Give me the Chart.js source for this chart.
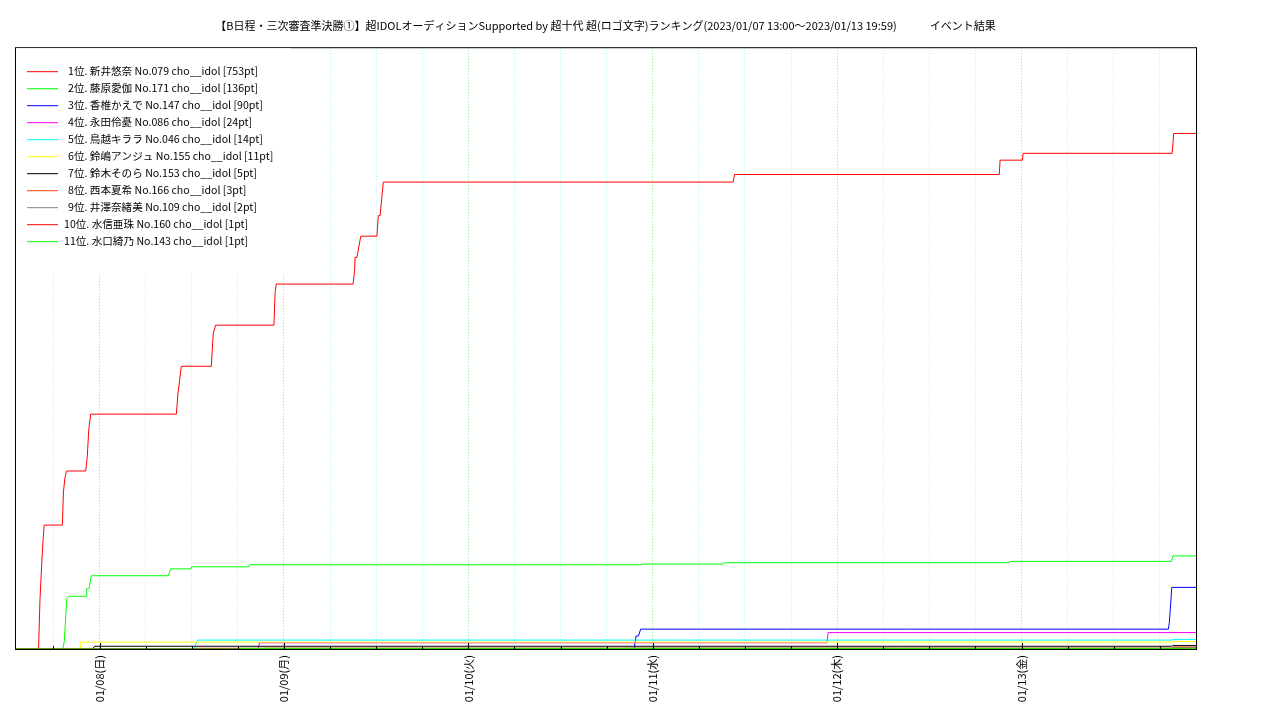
<!DOCTYPE html>
<html lang="ja">
<head>
<meta charset="UTF-8">
<title>ランキング推移</title>
<script src="https://cdn.jsdelivr.net/npm/chart.js@4"></script>
<style>
  body { margin: 0; background: #fff; }
  #wrap { width: 1280px; height: 720px; }
</style>
</head>
<body>
<div id="wrap"><canvas id="rankChart" width="1280" height="720"></canvas></div>
<script>
const chartTitle = '【B日程・三次審査準決勝①】超IDOLオーディションSupported by 超十代 超(ロゴ文字)ランキング(2023/01/07 13:00〜2023/01/13 19:59)　　　イベント結果';
const startTime = '01/07 13:00';
const endTime = '01/13 22:42';
const dayLabels = ['01/08(日)', '01/09(月)', '01/10(火)', '01/11(水)', '01/12(木)', '01/13(金)'];

const names = [
  '1位. 新井悠奈 No.079 cho__idol [753pt]',
  '2位. 藤原愛伽 No.171 cho__idol [136pt]',
  '3位. 香椎かえで No.147 cho__idol [90pt]',
  '4位. 永田伶憂 No.086 cho__idol [24pt]',
  '5位. 鳥越キララ No.046 cho__idol [14pt]',
  '6位. 鈴嶋アンジュ No.155 cho__idol [11pt]',
  '7位. 鈴木そのら No.153 cho__idol [5pt]',
  '8位. 西本夏希 No.166 cho__idol [3pt]',
  '9位. 井澤奈緒美 No.109 cho__idol [2pt]',
  '10位. 水信亜珠 No.160 cho__idol [1pt]',
  '11位. 水口綺乃 No.143 cho__idol [1pt]'
];
const colors = ['#ff0000', '#00ff00', '#0000ff', '#ff00ff', '#00ffff', '#ffff00',
                '#000000', '#ff4500', '#808080', '#ff0000', '#00ff00'];

// [time, points]
const rank1 = [
  ['01/07 13:00', 0], ['01/07 16:04', 0], ['01/07 16:15', 72], ['01/07 16:30', 130],
  ['01/07 16:40', 162], ['01/07 16:48', 181], ['01/07 19:10', 181], ['01/07 19:18', 229],
  ['01/07 19:30', 250], ['01/07 19:42', 260], ['01/07 22:12', 260], ['01/07 22:24', 280],
  ['01/07 22:36', 320], ['01/07 22:51', 343], ['01/08 10:00', 343], ['01/08 10:12', 372],
  ['01/08 10:39', 413], ['01/08 14:33', 413], ['01/08 14:48', 461], ['01/08 15:06', 473],
  ['01/08 22:42', 473], ['01/08 22:51', 521], ['01/08 23:00', 533], ['01/09 09:00', 533],
  ['01/09 09:12', 553], ['01/09 09:15', 572], ['01/09 09:30', 572], ['01/09 10:00', 603],
  ['01/09 12:06', 603], ['01/09 12:17', 633], ['01/09 12:31', 633], ['01/09 12:56', 682],
  ['01/11 10:27', 682], ['01/11 10:39', 693], ['01/12 21:06', 693], ['01/12 21:12', 714],
  ['01/13 00:06', 714], ['01/13 00:12', 724], ['01/13 19:36', 724], ['01/13 19:48', 753],
  ['01/13 22:42', 753]
];
const rank2 = [
  ['01/07 13:00', 0], ['01/07 19:13', 0], ['01/07 19:25', 11], ['01/07 19:44', 74],
  ['01/07 19:59', 77], ['01/07 22:17', 77], ['01/07 22:20', 88], ['01/07 22:38', 88],
  ['01/07 22:56', 107], ['01/08 08:57', 107], ['01/08 09:16', 117], ['01/08 11:54', 117],
  ['01/08 11:58', 120], ['01/08 19:25', 120], ['01/08 19:33', 123], ['01/10 22:36', 123],
  ['01/10 22:44', 124], ['01/11 09:09', 124], ['01/11 09:17', 126], ['01/12 22:24', 126],
  ['01/12 22:36', 128], ['01/13 19:30', 128], ['01/13 19:42', 136], ['01/13 22:42', 136]
];
const rank3 = [
  ['01/07 13:00', 0], ['01/10 21:34', 0], ['01/10 21:50', 19], ['01/10 22:08', 19],
  ['01/10 22:26', 29], ['01/13 19:06', 29], ['01/13 19:14', 39], ['01/13 19:33', 90],
  ['01/13 22:42', 90]
];
const rank4 = [
  ['01/07 13:00', 0], ['01/08 20:40', 0], ['01/08 20:48', 9], ['01/11 22:41', 9],
  ['01/11 22:49', 24], ['01/13 22:42', 24]
];
const rank5 = [
  ['01/07 13:00', 0], ['01/08 12:18', 0], ['01/08 12:44', 13], ['01/13 19:30', 13],
  ['01/13 19:40', 14], ['01/13 22:42', 14]
];
const rank6 = [
  ['01/07 13:00', 0], ['01/07 21:28', 0], ['01/07 21:30', 10], ['01/13 19:30', 10],
  ['01/13 19:40', 11], ['01/13 22:42', 11]
];
const rank7 = [
  ['01/07 13:00', 0], ['01/07 23:01', 0], ['01/07 23:24', 4], ['01/13 19:30', 4],
  ['01/13 19:40', 5], ['01/13 22:42', 5]
];
const rank8 = [
  ['01/07 13:00', 0], ['01/08 21:30', 0], ['01/08 21:32', 1], ['01/13 19:30', 1],
  ['01/13 19:40', 3], ['01/13 22:42', 3]
];
const rank9 = [
  ['01/07 13:00', 0], ['01/10 19:58', 0], ['01/10 20:00', 1], ['01/13 19:30', 1],
  ['01/13 19:40', 2], ['01/13 22:42', 2]
];
const rank10 = [
  ['01/07 13:00', 0], ['01/08 12:24', 0], ['01/08 12:26', 1], ['01/13 22:42', 1]
];
const rank11 = [
  ['01/07 13:00', 0], ['01/08 17:58', 0], ['01/08 18:00', 1], ['01/13 22:42', 1]
];
const series = [rank1, rank2, rank3, rank4, rank5, rank6, rank7, rank8, rank9, rank10, rank11];

const FONT = '"Noto Sans CJK JP", "Noto Sans", sans-serif';

// hours since 01/07 00:00
function toHours(s) {
  const [md, hm] = s.split(' ');
  const [m, d] = md.split('/').map(Number);
  const [h, mi] = hm.split(':').map(Number);
  return (d - 7) * 24 + h + mi / 60;
}

const xMin = toHours(startTime);
const xMax = toHours(endTime);

const datasets = series.map((s, i) => ({
  label: names[i],
  data: s.map(p => ({ x: toHours(p[0]), y: p[1] })),
  borderColor: colors[i],
  borderWidth: 1,
  pointRadius: 0,
  fill: false,
  order: -i
}));

// frame, inner tick marks and legend inside the plot
const framePlugin = {
  id: 'frame',
  afterDatasetsDraw(chart) {
    const { ctx, chartArea: a } = chart;
    const xs = chart.scales.x;
    ctx.save();
    ctx.strokeStyle = '#000';
    ctx.lineWidth = 1;
    ctx.strokeRect(a.left + 0.5, a.top + 0.5, a.right - a.left, a.bottom - a.top);
    xs.ticks.forEach(t => {
      const px = Math.round(xs.getPixelForValue(t.value)) + 0.5;
      const len = t.value % 24 === 0 ? 6 : 3;
      ctx.beginPath();
      ctx.moveTo(px, a.bottom);
      ctx.lineTo(px, a.bottom - len);
      ctx.stroke();
    });
    ctx.restore();
  },
  afterDraw(chart) {
    const { ctx, chartArea: a } = chart;
    ctx.save();
    // legend box (white, no border)
    ctx.fillStyle = '#fff';
    ctx.fillRect(a.left + 1, a.top + 1, 275, 225);
    ctx.font = '10.6px ' + FONT;
    ctx.textBaseline = 'middle';
    ctx.fillStyle = '#000';
    names.forEach((n, i) => {
      const y = a.top + 24 + i * 17;
      ctx.strokeStyle = colors[i];
      ctx.lineWidth = 1;
      ctx.beginPath();
      ctx.moveTo(a.left + 12, y + 0.5);
      ctx.lineTo(a.left + 43, y + 0.5);
      ctx.stroke();
      ctx.fillText(n, a.left + (i < 9 ? 53 : 49), y);
    });
    ctx.restore();
  }
};

new Chart(document.getElementById('rankChart'), {
  type: 'line',
  data: { datasets },
  plugins: [framePlugin],
  options: {
    responsive: false,
    animation: false,
    layout: { padding: { left: 15, right: 84 } },
    plugins: {
      legend: { display: false },
      tooltip: { enabled: false },
      title: {
        display: true,
        text: chartTitle,
        fullSize: false,
        color: '#000',
        font: { family: FONT, size: 11, weight: 'normal', lineHeight: 1.2 },
        padding: { top: 19, bottom: 15 }
      }
    },
    scales: {
      x: {
        type: 'linear',
        min: xMin,
        max: xMax,
        afterBuildTicks(scale) {
          const ticks = [];
          for (let v = 18; v < xMax; v += 6) ticks.push({ value: v });
          scale.ticks = ticks;
        },
        afterFit(scale) { scale.height = 71; },
        ticks: {
          autoSkip: false,
          minRotation: 90,
          maxRotation: 90,
          padding: 6,
          color: '#000',
          font: { family: FONT, size: 11 },
          callback: v => (v % 24 === 0 ? dayLabels[v / 24 - 1] : '')
        },
        grid: {
          drawTicks: false,
          lineWidth: 1,
          color: c => (c.tick && c.tick.value % 24 === 0 ? '#88ec88' : '#a6f4f4')
        },
        border: { display: false, dash: [1, 2] }
      },
      y: {
        display: false,
        min: 0,
        max: 879
      }
    }
  }
});
</script>
</body>
</html>
